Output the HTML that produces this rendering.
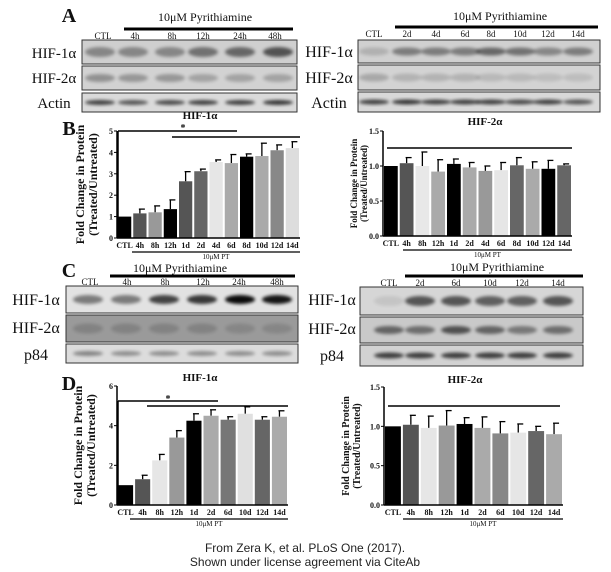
<!DOCTYPE html>
<html><head><meta charset="utf-8"><style>
html,body{margin:0;padding:0;background:#fff}
svg{display:block}
text{font-family:"Liberation Serif",serif;fill:#111}
.b{font-weight:bold}
</style></head><body>
<svg id="s" width="611" height="572" viewBox="0 0 611 572" xmlns="http://www.w3.org/2000/svg">
<defs><filter id="bl" x="-20%" y="-50%" width="140%" height="200%"><feGaussianBlur stdDeviation="1.6"/></filter></defs>
<g id="g"></g>
<text x="305" y="552" text-anchor="middle" style="font-family:'Liberation Sans',sans-serif;font-size:12px;fill:#222">From Zera K, et al. PLoS One (2017).</text>
<text x="305" y="566" text-anchor="middle" style="font-family:'Liberation Sans',sans-serif;font-size:12px;fill:#222">Shown under license agreement via CiteAb</text>
</svg>
<script>
var g=document.getElementById('g'),h='';
function T(x,y,s,sz,a,c){h+='<text x="'+x+'" y="'+y+'" font-size="'+sz+'" text-anchor="'+(a||'middle')+'"'+(c?' class="'+c+'"':'')+'>'+s+'</text>';}
function L(x1,y1,x2,y2,w){h+='<line x1="'+x1+'" y1="'+y1+'" x2="'+x2+'" y2="'+y2+'" stroke="#000" stroke-width="'+(w||1)+'"/>';}
function R(x,y,w,hh,f,st){h+='<rect x="'+x+'" y="'+y+'" width="'+w+'" height="'+hh+'" fill="'+f+'"'+(st?' stroke="#333" stroke-width="1"':'')+'/>';}
function blot(x,y,w,hh,bg,lanes,dark,bh){R(x,y,w,hh,bg,1);
 for(var i=0;i<lanes.length;i++){h+='<ellipse cx="'+lanes[i]+'" cy="'+(y+hh/2)+'" rx="15" ry="'+bh+'" fill="#000" opacity="'+dark[i]+'" filter="url(#bl)"/>';}}
function header(cx,ty,bx1,bx2,by,labs,ly,fs){T(cx,ty,'10μM Pyrithiamine',fs||12);L(bx1,by,bx2,by,3);
 for(var k in labs)T(labs[k][0],ly,labs[k][1],9);}
function chart(o){var x0=o.x0,y0=o.y0,yt=o.yt,max=o.max,n=o.v.length,p=(o.x1-x0)/n;
 function Y(v){return y0-(y0-yt)*v/max;}
 for(var i=0;i<n;i++){var bx=x0+1+i*p,bw=p-2,v=o.v[i],e=o.e[i];
  if(e){L(bx+bw/2,Y(v),bx+bw/2,Y(e),1.3);L(bx+bw/2-1,Y(e),bx+bw/2+5,Y(e),1.3);}
  R(bx,Y(v),bw,y0-Y(v),o.c[i]);
  T(bx+bw/2,y0+10,o.l[i],8,'middle','b');}
 L(x0,yt,x0,y0,1.5);L(x0,y0,o.x1,y0,1.5);
 for(var t=0;t<o.ticks.length;t++){var yy=Y(o.ticks[t]);L(x0-3,yy,x0,yy,1);T(x0-4,yy+3,o.tl[t],8,'end','b');}
 L(o.ux,y0+14,o.x1,y0+14,1.2);T((o.ux+o.x1)/2,y0+21,'10μM PT',7);
 T(o.tx,yt-9+(o.tdy||0),o.title,11,'middle','b');
 var cy=(yt+y0)/2,lx=o.lx;
 h+='<text transform="translate('+lx+','+cy+') rotate(-90)" font-size="'+o.lfs+'" text-anchor="middle" class="b">Fold Change in Protein</text>';
 h+='<text transform="translate('+(lx+o.lfs+1)+','+cy+') rotate(-90)" font-size="'+o.lfs+'" text-anchor="middle" class="b">(Treated/Untreated)</text>';
 return Y;}
T(69,22,'A',20,'middle','b');
header(205,21,124,293,29,[[103,'CTL'],[135,'4h'],[172,'8h'],[203,'12h'],[240,'24h'],[275,'48h']],39);
blot(82,40,215,24,'#cfcfcf',[100,133,170,203,240,278],[.35,.35,.35,.45,.5,.6],5);
blot(82,66,215,24,'#d2d2d2',[100,133,170,203,240,278],[.3,.28,.28,.22,.22,.22],4);
blot(82,93,215,19,'#dadada',[100,133,170,203,240,278],[.7,.6,.65,.7,.7,.75],2.5);
T(54,58,'HIF-1α',15);T(54,83,'HIF-2α',15);T(54,108,'Actin',15);
header(500,20,395,598,27,[[374,'CTL'],[407,'2d'],[436,'4d'],[465,'6d'],[491,'8d'],[520,'10d'],[548,'12d'],[578,'14d']],37);
blot(358,40,242,23,'#d0d0d0',[374,407,436,465,491,520,548,578],[.15,.4,.4,.4,.5,.45,.35,.4],4);
blot(358,65,242,25,'#d3d3d3',[374,407,436,465,491,520,548,578],[.2,.15,.15,.15,.12,.12,.1,.1],4);
blot(358,92,242,20,'#d8d8d8',[374,407,436,465,491,520,548,578],[.7,.75,.7,.7,.7,.65,.7,.6],2.5);
T(329,57,'HIF-1α',16);T(329,83,'HIF-2α',16);T(329,108,'Actin',16);
T(69,135,'B',20,'middle','b');
chart({x0:117,x1:300,y0:238,yt:131,max:5,v:[1,1.15,1.2,1.35,2.65,3.12,3.55,3.5,3.8,3.83,4.1,4.2],e:[0,1.35,1.5,1.78,3.1,3.22,3.65,3.9,3.93,4.43,4.35,4.5],
 c:['#000','#555','#999','#000','#555','#666','#e6e6e6','#aaa','#000','#aaa','#888','#ddd'],l:['CTL','4h','8h','12h','1d','2d','4d','6d','8d','10d','12d','14d'],
 ticks:[0,1,2,3,4,5],tl:['0','1','2','3','4','5'],ux:132,tx:200,tdy:-3,title:'HIF-1α',lx:84,lfs:12});
L(118,131,118,238,1.5);L(118,131,237,131,1.5);T(183,131,'*',10,'middle','b');L(172,137,300,137,1.5);
chart({x0:383,x1:572,y0:236,yt:131,max:1.5,v:[1,1.04,1.0,0.92,1.03,0.98,0.93,0.94,1.01,0.96,0.96,1.01],e:[0,1.12,1.2,1.09,1.1,1.05,1.0,1.05,1.12,1.06,1.08,1.03],
 c:['#000','#555','#e8e8e8','#aaa','#000','#aaa','#999','#e6e6e6','#666','#aaa','#000','#666'],l:['CTL','4h','8h','12h','1d','2d','4d','6d','8d','10d','12d','14d'],
 ticks:[0,0.5,1,1.5],tl:['0.0','0.5','1.0','1.5'],ux:403,tx:485,tdy:3,title:'HIF-2α',lx:357,lfs:9});
L(387,148,572,148,1.5);
T(69,277,'C',20,'middle','b');
header(180,272,110,295,276,[[90,'CTL'],[127,'4h'],[165,'8h'],[203,'12h'],[239,'24h'],[277,'48h']],285);
blot(66,286,232,27,'#e2e2e2',[88,126,164,202,240,277],[.45,.45,.7,.75,.95,.9],4.5);
blot(66,315,232,27,'#9a9a9a',[88,126,164,202,240,277],[.15,.15,.15,.15,.12,.12],5);
blot(66,344,232,19,'#dcdcdc',[88,126,164,202,240,277],[.4,.35,.35,.35,.35,.35],2.5);
T(36,305,'HIF-1α',16);T(36,333,'HIF-2α',16);T(36,360,'p84',16);
header(497,271,405,583,276,[[389,'CTL'],[420,'2d'],[456,'6d'],[490,'10d'],[522,'12d'],[558,'14d']],286);
blot(360,287,223,28,'#d6d6d6',[389,420,456,490,522,558],[.08,.6,.6,.55,.55,.6],5);
blot(360,317,223,26,'#c9c9c9',[389,420,456,490,522,558],[.5,.45,.6,.5,.4,.45],4);
blot(360,345,223,21,'#d2d2d2',[389,420,456,490,522,558],[.7,.7,.7,.7,.7,.7],3);
T(332,305,'HIF-1α',16);T(332,334,'HIF-2α',16);T(332,361,'p84',16);
T(69,390,'D',20,'middle','b');
chart({x0:117,x1:288,y0:505,yt:386,max:6,v:[1,1.3,2.25,3.4,4.25,4.5,4.3,4.6,4.3,4.45],e:[0,1.5,2.55,3.75,4.6,4.8,4.45,4.95,4.45,4.75],
 c:['#000','#555','#e6e6e6','#999','#000','#aaa','#777','#e0e0e0','#666','#aaa'],l:['CTL','4h','8h','12h','1d','2d','6d','10d','12d','14d'],
 ticks:[0,2,4,6],tl:['0','2','4','6'],ux:130,tx:200,tdy:4,title:'HIF-1α',lx:82,lfs:12});
L(118,401,118,505,1.5);L(118,401,218,401,1.5);T(168,402,'*',10,'middle','b');L(147,406,288,406,1.5);
chart({x0:384,x1:563,y0:505,yt:387,max:1.5,v:[1,1.02,0.98,1.01,1.03,0.98,0.91,0.92,0.94,0.9],e:[0,1.14,1.13,1.2,1.11,1.12,1.06,1.03,1.0,1.04],
 c:['#000','#555','#e6e6e6','#999','#000','#aaa','#888','#e6e6e6','#666','#aaa'],l:['CTL','4h','8h','12h','1d','2d','6d','10d','12d','14d'],
 ticks:[0,0.5,1,1.5],tl:['0.0','0.5','1.0','1.5'],ux:403,tx:465,tdy:5,title:'HIF-2α',lx:349,lfs:10});
L(388,406,560,406,1.5);
g.innerHTML=h;
</script>
</body></html>
